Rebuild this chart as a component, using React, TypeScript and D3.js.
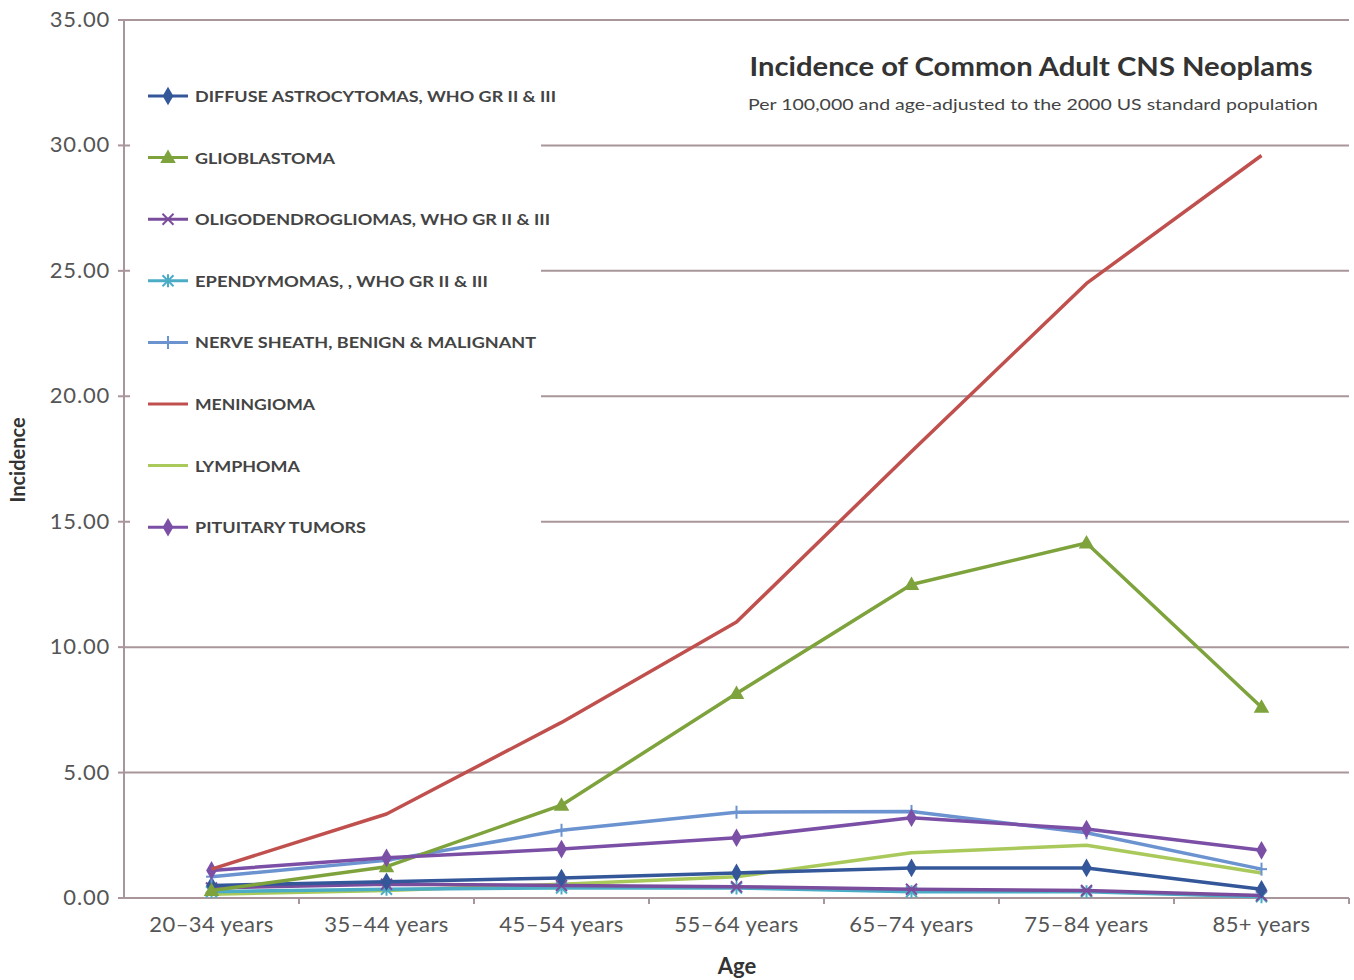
import React from "react";
import * as d3 from "d3";

const categories = ["20–34 years", "35–44 years", "45–54 years", "55–64 years", "65–74 years", "75–84 years", "85+ years"];
const yTicks = [0, 5, 10, 15, 20, 25, 30, 35];

const diffuseAstro = [0.5, 0.65, 0.8, 1.0, 1.2, 1.2, 0.35];
const glioblastoma = [0.3, 1.25, 3.7, 8.15, 12.5, 14.15, 7.6];
const oligodendro = [0.4, 0.55, 0.5, 0.45, 0.35, 0.3, 0.1];
const ependymoma = [0.25, 0.35, 0.4, 0.4, 0.25, 0.25, 0.05];
const nerveSheath = [0.85, 1.5, 2.7, 3.42, 3.45, 2.6, 1.15];
const meningioma = [1.15, 3.35, 7.0, 11.0, 17.8, 24.5, 29.6];
const lymphoma = [0.15, 0.3, 0.55, 0.85, 1.8, 2.1, 1.0];
const pituitary = [1.1, 1.6, 1.95, 2.4, 3.2, 2.75, 1.9];

const seriesNames = [
  "DIFFUSE ASTROCYTOMAS, WHO GR II & III",
  "GLIOBLASTOMA",
  "OLIGODENDROGLIOMAS, WHO GR II & III",
  "EPENDYMOMAS, , WHO GR II & III",
  "NERVE SHEATH, BENIGN  & MALIGNANT",
  "MENINGIOMA",
  "LYMPHOMA",
  "PITUITARY TUMORS",
];
const seriesValues = [diffuseAstro, glioblastoma, oligodendro, ependymoma, nerveSheath, meningioma, lymphoma, pituitary];
const seriesColors = ["#34579a", "#7ea33c", "#7a4c9c", "#4bacc6", "#6b93d0", "#c0504d", "#a9c95a", "#7b4fa6"];
const seriesMarkers = ["diamond", "triangle", "x", "asterisk", "plus", "none", "none", "diamond"];
const legendWidths = [361, 140, 355, 293, 341, 120, 105, 171];
// draw order (back to front)
const drawOrder = [6, 3, 2, 0, 4, 1, 7, 5];

const W = 1354, H = 980;
const left = 124, right = 1349, top = 20, bottom = 898;
const font = "Lato, 'Open Sans', sans-serif";

function Marker({ type, x, y, color }: { type: string; x: number; y: number; color: string }) {
  if (type === "none") return null;
  if (type === "diamond") {
    const p = d3.symbol().type(d3.symbolDiamond).size(100)();
    return <path d={p || ""} transform={`translate(${x},${y})`} fill={color} />;
  }
  if (type === "triangle") {
    const p = d3.symbol().type(d3.symbolTriangle).size(105)();
    return <path d={p || ""} transform={`translate(${x},${y + 1})`} fill={color} />;
  }
  const s = 5.5;
  const lines: [number, number, number, number][] = [];
  if (type === "x" || type === "asterisk") {
    lines.push([-s, -s, s, s], [-s, s, s, -s]);
  }
  if (type === "asterisk" || type === "plus") {
    lines.push([0, -s - 1, 0, s + 1]);
  }
  if (type === "plus") lines.push([-s, 0, s, 0]);
  return (
    <g transform={`translate(${x},${y})`}>
      {lines.map((l, i) => (
        <line key={i} x1={l[0]} y1={l[1]} x2={l[2]} y2={l[3]} stroke={color} strokeWidth={2} />
      ))}
    </g>
  );
}

export default function App() {
  const x = d3.scaleBand<string>().domain(categories).range([left, right]);
  const y = d3.scaleLinear().domain([0, 35]).range([bottom, top]);
  const cx = (c: string) => (x(c) || 0) + x.bandwidth() / 2;
  const line = d3
    .line<number>()
    .x((_, i) => cx(categories[i]))
    .y((d) => y(d));

  const gridColor = "#a8969a";
  const legendX = 148;
  const legendY0 = 96;
  const legendStep = 61.6;

  return (
    <svg width={W} height={H} style={{ position: "absolute", left: 0, top: 0, display: "block", background: "#fff" }}>
      <rect x={0} y={0} width={W} height={H} fill="#fff" />
      {/* gridlines */}
      {yTicks.map((t) => (
        <g key={t}>
          <line x1={left} x2={right} y1={y(t)} y2={y(t)} stroke={gridColor} strokeWidth={2} />
          <line x1={left - 6} x2={left} y1={y(t)} y2={y(t)} stroke={gridColor} strokeWidth={2} />
          <text x={110} y={y(t) + 7} textAnchor="end" fontFamily={font} fontSize={22} letterSpacing={0.8} fill="#555">
            {t.toFixed(2)}
          </text>
        </g>
      ))}
      {/* legend background */}
      <rect x={130} y={60} width={411} height={490} fill="#fff" />
      {/* axes */}
      <line x1={left} x2={left} y1={top} y2={bottom} stroke={gridColor} strokeWidth={2} />
      <line x1={left} x2={right} y1={bottom} y2={bottom} stroke={gridColor} strokeWidth={2} />
      {categories.map((c) => (
        <g key={c}>
          <line x1={x(c)! + x.bandwidth()} x2={x(c)! + x.bandwidth()} y1={bottom} y2={bottom + 6} stroke={gridColor} strokeWidth={2} />
          <text x={cx(c)} y={932} textAnchor="middle" fontFamily={font} fontSize={22} letterSpacing={0.4} fill="#555">
            {c}
          </text>
        </g>
      ))}
      {/* series */}
      {drawOrder.map((si) => (
        <g key={si}>
          <path d={line(seriesValues[si]) || ""} fill="none" stroke={seriesColors[si]} strokeWidth={3.5} strokeLinejoin="round" />
          {seriesValues[si].map((v, i) => (
            <Marker key={i} type={seriesMarkers[si]} x={cx(categories[i])} y={y(v)} color={seriesColors[si]} />
          ))}
        </g>
      ))}
      {/* legend */}
      {seriesNames.map((n, i) => {
        const ly = legendY0 + i * legendStep;
        return (
          <g key={n}>
            <line x1={legendX} x2={legendX + 40} y1={ly} y2={ly} stroke={seriesColors[i]} strokeWidth={3} />
            <Marker type={seriesMarkers[i]} x={legendX + 20} y={ly} color={seriesColors[i]} />
            <text x={195} y={ly + 6} fontFamily={font} fontSize={15} fontWeight={700} fill="#444" textLength={legendWidths[i]} lengthAdjust="spacingAndGlyphs">
              {n}
            </text>
          </g>
        );
      })}
      {/* title */}
      <text x={1031} y={76} textAnchor="middle" fontFamily={font} fontSize={26} fontWeight={700} fill="#333" textLength={563} lengthAdjust="spacingAndGlyphs">
        Incidence of Common Adult CNS Neoplams
      </text>
      <text x={1033} y={110} textAnchor="middle" fontFamily={font} fontSize={16} fill="#444" textLength={570} lengthAdjust="spacingAndGlyphs">
        Per 100,000 and age-adjusted  to the 2000 US standard population
      </text>
      {/* axis titles */}
      <text x={737} y={974} textAnchor="middle" fontFamily={font} fontSize={22} fontWeight={700} fill="#333">
        Age
      </text>
      <text transform="translate(25,460) rotate(-90)" textAnchor="middle" fontFamily={font} fontSize={20} fontWeight={700} fill="#333">
        Incidence
      </text>
    </svg>
  );
}
